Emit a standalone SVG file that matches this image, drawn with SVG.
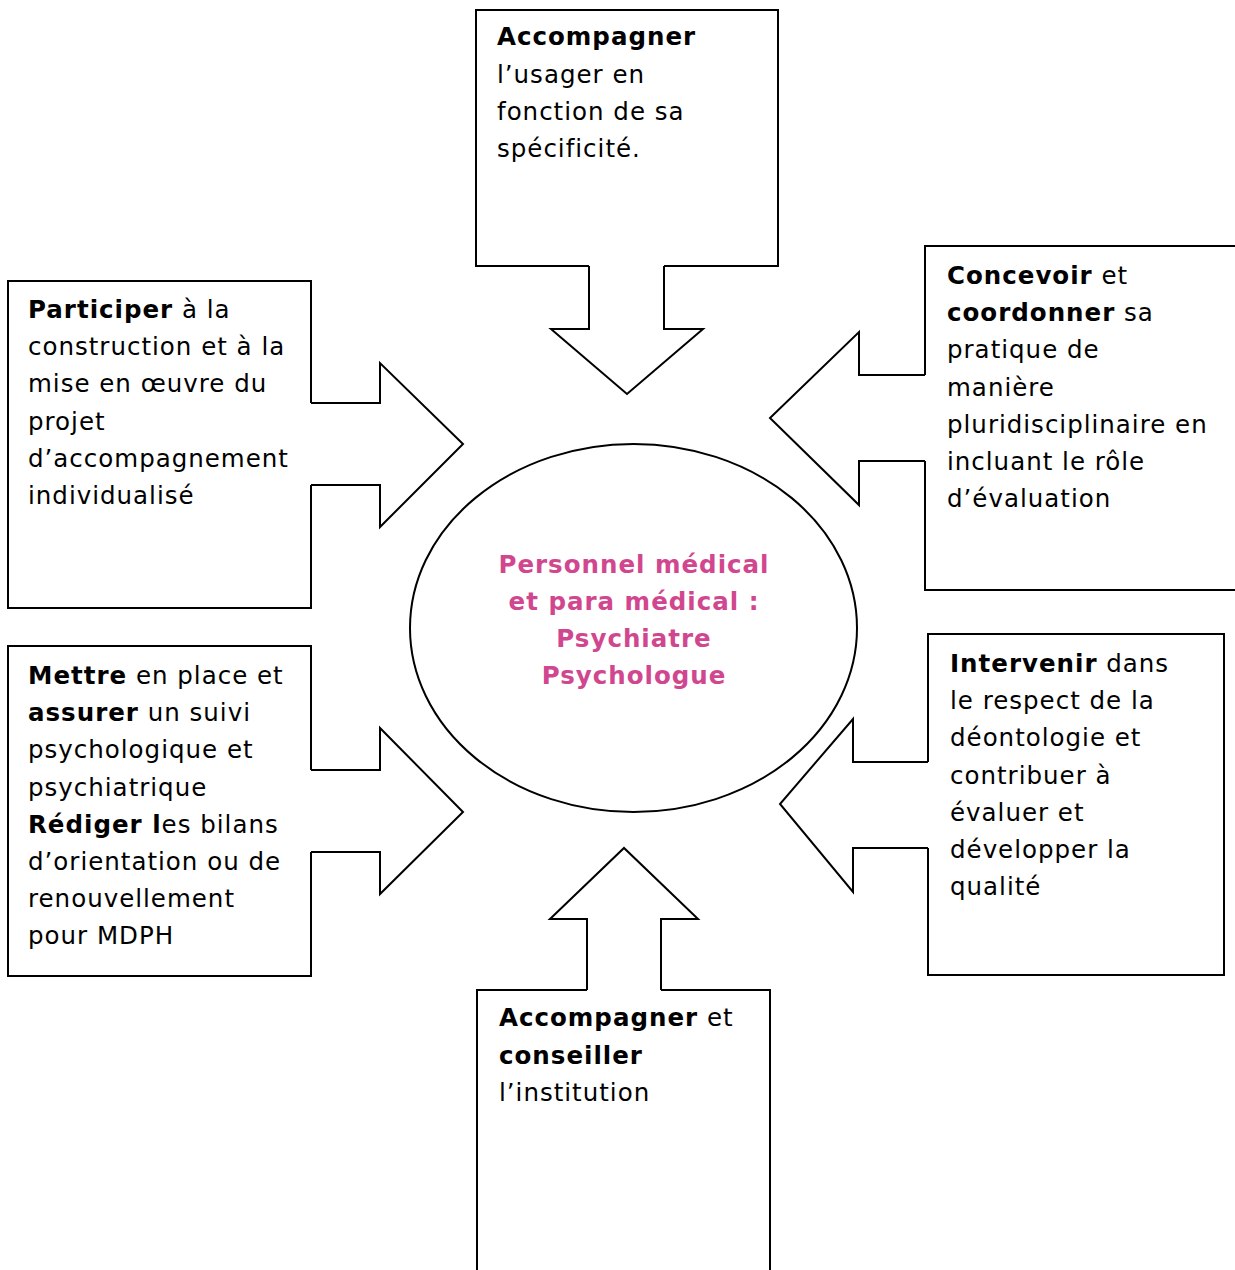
<svg xmlns="http://www.w3.org/2000/svg" width="1235" height="1270" viewBox="0 0 1235 1270">
  <style>
    .box { fill: #ffffff; stroke: #000000; stroke-width: 2; }
    .oval { fill: #ffffff; stroke: #000000; stroke-width: 2; }
    .arrow-fill { fill: #ffffff; stroke: none; }
    .arrow-line { fill: none; stroke: #000000; stroke-width: 2; stroke-linejoin: miter; }
    .txt { font-family: "DejaVu Sans", Verdana, sans-serif; font-size: 24.5px; letter-spacing: 1px; fill: #000000; }
    .b { font-weight: bold; }
    .centre { font-family: "DejaVu Sans", Verdana, sans-serif; font-size: 24.5px; letter-spacing: 1px; font-weight: bold; fill: #d1478f; text-anchor: middle; }
  </style>
  <rect width="1235" height="1270" fill="#ffffff"/>

  <!-- boxes -->
  <g id="node-usager">
    <rect class="box" x="476" y="10" width="302" height="256"/>
    <text class="txt" x="497" y="45"><tspan class="b">Accompagner</tspan></text>
    <text class="txt" x="497" y="82.5">l’usager en</text>
    <text class="txt" x="497" y="120">fonction de sa</text>
    <text class="txt" x="497" y="157">spécificité.</text>
  </g>

  <g id="node-concevoir">
    <rect class="box" x="925" y="246" width="330" height="344"/>
    <text class="txt" x="947" y="284"><tspan class="b">Concevoir</tspan> et</text>
    <text class="txt" x="947" y="321"><tspan class="b">coordonner</tspan> sa</text>
    <text class="txt" x="947" y="358">pratique de</text>
    <text class="txt" x="947" y="395.5">manière</text>
    <text class="txt" x="947" y="433">pluridisciplinaire en</text>
    <text class="txt" x="947" y="470">incluant le rôle</text>
    <text class="txt" x="947" y="507">d’évaluation</text>
  </g>

  <g id="node-participer">
    <rect class="box" x="8" y="281" width="303" height="327"/>
    <text class="txt" x="28" y="318"><tspan class="b">Participer</tspan> à la</text>
    <text class="txt" x="28" y="355">construction et à la</text>
    <text class="txt" x="28" y="392">mise en œuvre du</text>
    <text class="txt" x="28" y="429.5">projet</text>
    <text class="txt" x="28" y="467">d’accompagnement</text>
    <text class="txt" x="28" y="504">individualisé</text>
  </g>

  <g id="node-mettre">
    <rect class="box" x="8" y="646" width="303" height="330"/>
    <text class="txt" x="28" y="684"><tspan class="b">Mettre</tspan> en place et</text>
    <text class="txt" x="28" y="721"><tspan class="b">assurer</tspan> un suivi</text>
    <text class="txt" x="28" y="758">psychologique et</text>
    <text class="txt" x="28" y="795.5">psychiatrique</text>
    <text class="txt" x="28" y="833"><tspan class="b">Rédiger l</tspan>es bilans</text>
    <text class="txt" x="28" y="870">d’orientation ou de</text>
    <text class="txt" x="28" y="907">renouvellement</text>
    <text class="txt" x="28" y="944">pour MDPH</text>
  </g>

  <g id="node-intervenir">
    <rect class="box" x="928" y="634" width="296" height="341"/>
    <text class="txt" x="950" y="672"><tspan class="b">Intervenir</tspan> dans</text>
    <text class="txt" x="950" y="709">le respect de la</text>
    <text class="txt" x="950" y="746">déontologie et</text>
    <text class="txt" x="950" y="783.5">contribuer à</text>
    <text class="txt" x="950" y="821">évaluer et</text>
    <text class="txt" x="950" y="858">développer la</text>
    <text class="txt" x="950" y="895">qualité</text>
  </g>

  <g id="node-conseiller">
    <rect class="box" x="477" y="990" width="293" height="300"/>
    <text class="txt" x="499" y="1026"><tspan class="b">Accompagner</tspan> et</text>
    <text class="txt" x="499" y="1063.5"><tspan class="b">conseiller</tspan></text>
    <text class="txt" x="499" y="1101">l’institution</text>
  </g>

  <g id="node-centre">
    <ellipse class="oval" cx="633.5" cy="628" rx="223.5" ry="184"/>
    <text class="centre" x="634" y="573">Personnel médical</text>
    <text class="centre" x="634" y="610">et para médical :</text>
    <text class="centre" x="634" y="647">Psychiatre</text>
    <text class="centre" x="634" y="684">Psychologue</text>
  </g>

  <!-- block arrows from each box toward the centre -->
  <g id="connectors">
    <g id="arrow-usager">
      <polygon class="arrow-fill" points="589,262 589,329 551,329 627,394 703,329 664,329 664,262"/>
      <polyline class="arrow-line" points="589,266 589,329 551,329 627,394 703,329 664,329 664,266"/>
    </g>
    <g id="arrow-concevoir">
      <polygon class="arrow-fill" points="929,375 859,375 859,332 770,418 859,505 859,461 929,461"/>
      <polyline class="arrow-line" points="925,375 859,375 859,332 770,418 859,505 859,461 925,461"/>
    </g>
    <g id="arrow-participer">
      <polygon class="arrow-fill" points="307,403 380,403 380,363 463,444 380,527 380,485 307,485"/>
      <polyline class="arrow-line" points="311,403 380,403 380,363 463,444 380,527 380,485 311,485"/>
    </g>
    <g id="arrow-mettre">
      <polygon class="arrow-fill" points="307,770 380,770 380,728 463,812 380,894 380,852 307,852"/>
      <polyline class="arrow-line" points="311,770 380,770 380,728 463,812 380,894 380,852 311,852"/>
    </g>
    <g id="arrow-intervenir">
      <polygon class="arrow-fill" points="932,762 853,762 853,719 780,804 853,892 853,848 932,848"/>
      <polyline class="arrow-line" points="928,762 853,762 853,719 780,804 853,892 853,848 928,848"/>
    </g>
    <g id="arrow-conseiller">
      <polygon class="arrow-fill" points="587,994 587,919 550,919 624,848 698,919 661,919 661,994"/>
      <polyline class="arrow-line" points="587,990 587,919 550,919 624,848 698,919 661,919 661,990"/>
    </g>
  </g>
</svg>
